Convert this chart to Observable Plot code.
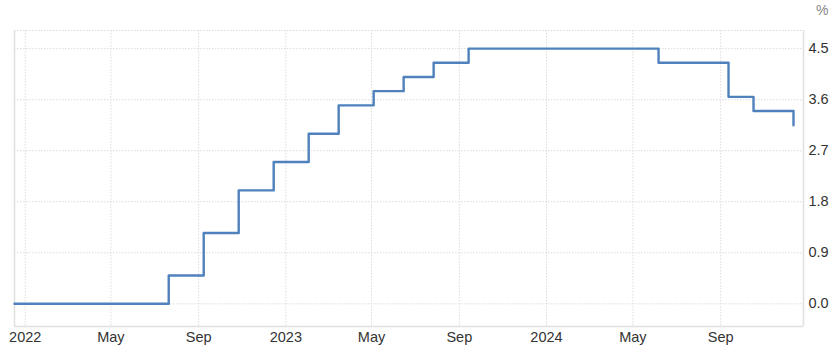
<!DOCTYPE html>
<html>
<head>
<meta charset="utf-8">
<script src="https://cdn.jsdelivr.net/npm/d3@7"></script>
<script src="https://cdn.jsdelivr.net/npm/@observablehq/plot@0.6"></script>
<style>
  html, body { margin: 0; padding: 0; background: #fff; }
  #chart { position: relative; width: 834px; height: 350px; }
  #unit { position: absolute; left: 816px; top: 2px; font: 14px "Liberation Sans", Arial, sans-serif; color: #888; }
</style>
</head>
<body>
<div id="chart"><div id="unit">%</div></div>
<script>
const dates = ["2021-12-17","2022-07-21","2022-09-08","2022-10-27","2022-12-15","2023-02-02","2023-03-16","2023-05-04","2023-06-15","2023-07-27","2023-09-14","2024-06-06","2024-09-12","2024-10-17","2024-12-12"];
const rates = [0.0, 0.5, 1.25, 2.0, 2.5, 3.0, 3.5, 3.75, 4.0, 4.25, 4.5, 4.25, 3.65, 3.4, 3.15];
const yTicks = [0.0, 0.9, 1.8, 2.7, 3.6, 4.5];
const xTickDates = ["2022-01-01","2022-05-01","2022-09-01","2023-01-01","2023-05-01","2023-09-01","2024-01-01","2024-05-01","2024-09-01"];
const xTickLabels = ["2022","May","Sep","2023","May","Sep","2024","May","Sep"];

const parse = d3.utcParse("%Y-%m-%d");
const data = dates.map((d, i) => ({date: parse(d), value: rates[i]}));
const xTicks = xTickDates.map(parse);
const labelOf = new Map(xTicks.map((d, i) => [+d, xTickLabels[i]]));
const xDomain = [parse("2021-12-17"), parse("2024-12-26")];
const yDomain = [-0.4, 4.82];

const grid = {stroke: "#dcdcdc", strokeDasharray: "1.5,1.5", strokeWidth: 1};

const chart = Plot.plot({
  width: 834,
  height: 350,
  marginLeft: 14,
  marginRight: 31,
  marginTop: 30,
  marginBottom: 24,
  style: {fontFamily: "'Liberation Sans', Arial, sans-serif", fontSize: "15px", color: "#333", background: "#fff"},
  x: {type: "utc", domain: xDomain},
  y: {domain: yDomain},
  marks: [
    Plot.ruleX(xTicks, {...grid}),
    Plot.ruleY(yTicks, {...grid}),
    Plot.ruleY([yDomain[1]], {...grid}),
    Plot.ruleX([xDomain[0], xDomain[1]], {stroke: "#e0e0e0", strokeWidth: 1.5}),
    Plot.ruleY([yDomain[0]], {stroke: "#e0e0e0", strokeWidth: 1.5}),
    Plot.axisY(yTicks, {anchor: "right", tickSize: 0, tickPadding: 5, label: null, tickFormat: d3.format(".1f"), fill: "#333", fontSize: 14.5}),
    Plot.axisX(xTicks, {anchor: "bottom", tickSize: 0, tickPadding: 5, label: null, tickFormat: d => labelOf.get(+d), fill: "#333", fontSize: 14.5}),
    Plot.line(data, {x: "date", y: "value", curve: "step-after", stroke: "#4f81bd", strokeWidth: 2.4})
  ]
});
document.getElementById("chart").appendChild(chart);
</script>
</body>
</html>
